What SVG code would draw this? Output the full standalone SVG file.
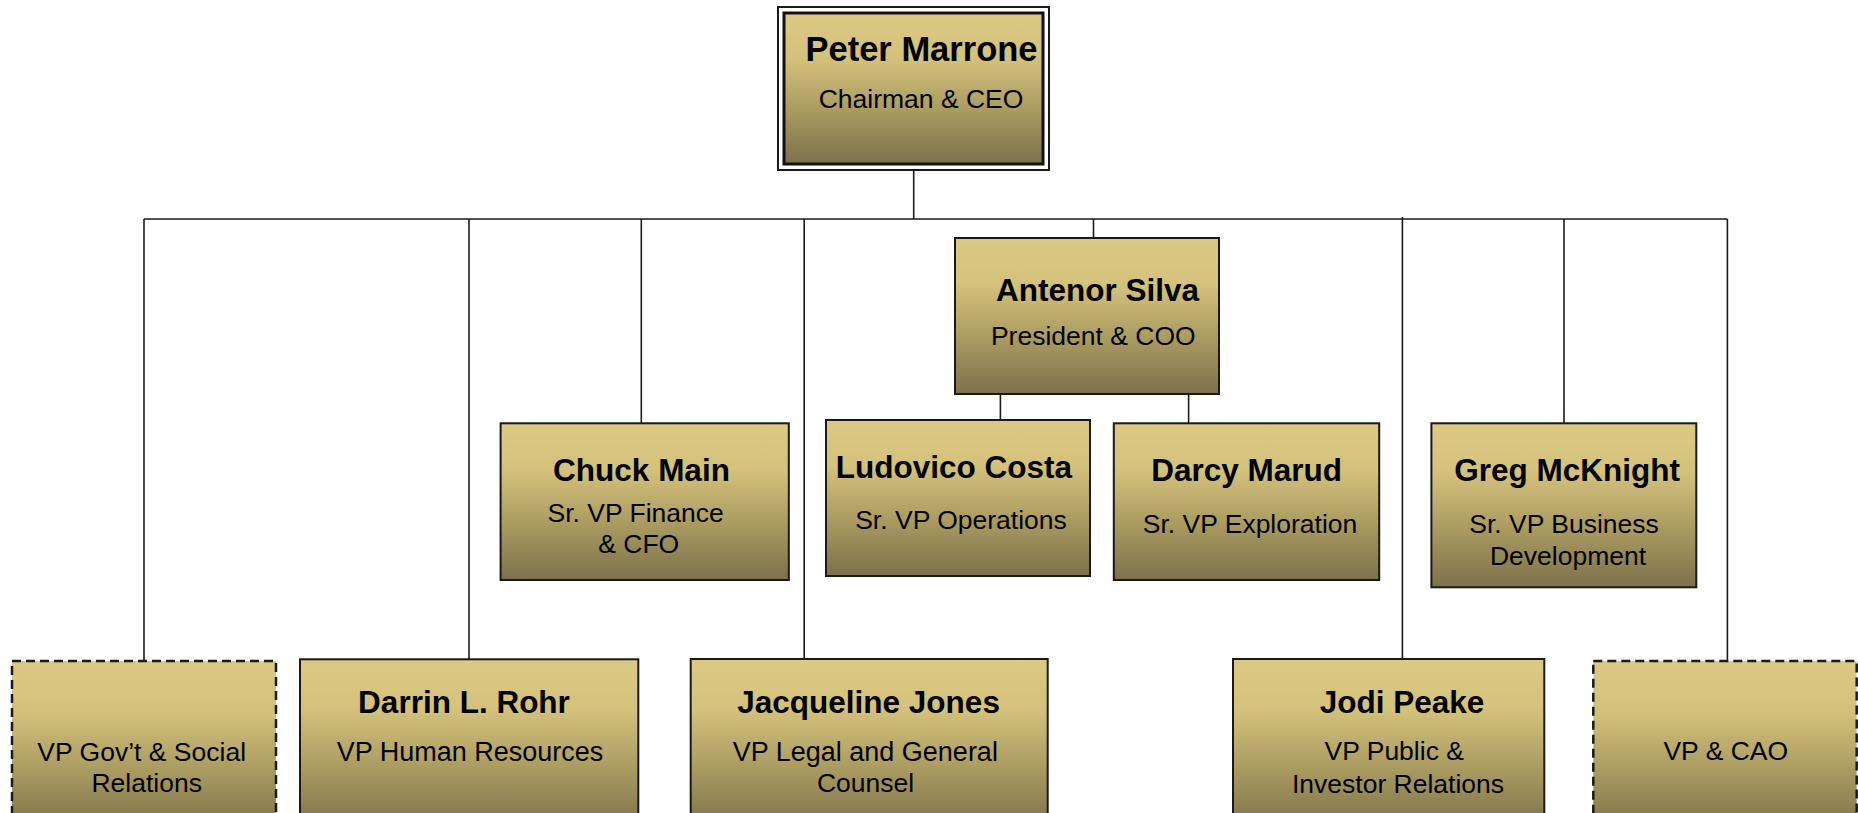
<svg xmlns="http://www.w3.org/2000/svg" width="1858" height="813" viewBox="0 0 1858 813">
<defs>
<linearGradient id="gold" x1="0" y1="0" x2="0" y2="1">
<stop offset="0" stop-color="#DCCA84"/>
<stop offset="0.3" stop-color="#D3C17C"/>
<stop offset="0.65" stop-color="#A99A60"/>
<stop offset="1" stop-color="#7C714B"/>
</linearGradient>
</defs>
<style>
.box{fill:url(#gold);stroke:#1a1a1a;stroke-width:2}
.dash{fill:url(#gold);stroke:#1a1a1a;stroke-width:2.5;stroke-dasharray:9 5}
.name{font-family:"Liberation Sans",Arial,sans-serif;font-weight:bold;font-size:31.5px;fill:#000;text-anchor:middle}
.title{font-family:"Liberation Sans",Arial,sans-serif;font-size:26.5px;fill:#000;text-anchor:middle}
.conn{stroke:#1a1a1a;stroke-width:1.6;fill:none}
</style>
<rect width="1858" height="813" fill="#fff"/>
<g id="connectors">
<line class="conn" x1="144" y1="219" x2="1727.4" y2="219"/>
<line class="conn" x1="913.7" y1="170" x2="913.7" y2="219"/>
<line class="conn" x1="144" y1="219" x2="144" y2="661"/>
<line class="conn" x1="469" y1="219" x2="469" y2="659"/>
<line class="conn" x1="641.3" y1="219" x2="641.3" y2="424"/>
<line class="conn" x1="804.2" y1="219" x2="804.2" y2="659"/>
<line class="conn" x1="1093.5" y1="219" x2="1093.5" y2="239"/>
<line class="conn" x1="1000.4" y1="394" x2="1000.4" y2="420"/>
<line class="conn" x1="1188.6" y1="394" x2="1188.6" y2="423"/>
<line class="conn" x1="1402.4" y1="217" x2="1402.4" y2="659"/>
<line class="conn" x1="1564" y1="219" x2="1564" y2="424"/>
<line class="conn" x1="1727.4" y1="219" x2="1727.4" y2="661"/>
</g>
<g id="peter-marrone">
<rect x="778" y="7" width="271" height="163" fill="#fff" stroke="#1a1a1a" stroke-width="2"/>
<rect x="784" y="13" width="259" height="151" fill="url(#gold)" stroke="#111" stroke-width="3"/>
<text class="name" x="921.5" y="61" style="font-size:34.5px">Peter Marrone</text>
<text class="title" x="921" y="108">Chairman &amp; CEO</text>
</g>
<g id="antenor-silva">
<rect class="box" x="955" y="238" width="264" height="156"/>
<text class="name" x="1097.5" y="300.7">Antenor Silva</text>
<text class="title" x="1093.3" y="345">President &amp; COO</text>
</g>
<g id="chuck-main">
<rect class="box" x="500.6" y="423.3" width="288.2" height="156.7"/>
<text class="name" x="641.5" y="481">Chuck Main</text>
<text class="title" x="635.6" y="521.7">Sr. VP Finance</text>
<text class="title" x="638.7" y="553.3">&amp; CFO</text>
</g>
<g id="ludovico-costa">
<rect class="box" x="826" y="420" width="264" height="156"/>
<text class="name" x="954" y="478.3">Ludovico Costa</text>
<text class="title" x="961" y="529.3">Sr. VP Operations</text>
</g>
<g id="darcy-marud">
<rect class="box" x="1113.8" y="423.3" width="265.4" height="156.7"/>
<text class="name" x="1246.7" y="481">Darcy Marud</text>
<text class="title" x="1250" y="532.7">Sr. VP Exploration</text>
</g>
<g id="greg-mcknight">
<rect class="box" x="1431.4" y="423.3" width="264.9" height="164"/>
<text class="name" x="1567" y="481">Greg McKnight</text>
<text class="title" x="1564" y="533.3">Sr. VP Business</text>
<text class="title" x="1568" y="565">Development</text>
</g>
<g id="vp-govt-social">
<rect class="dash" x="12" y="661" width="264" height="170"/>
<text class="title" x="141.7" y="761">VP Gov’t &amp; Social</text>
<text class="title" x="146.7" y="791.7">Relations</text>
</g>
<g id="darrin-rohr">
<rect class="box" x="300" y="659.3" width="338.3" height="170"/>
<text class="name" x="464" y="713.4">Darrin L. Rohr</text>
<text class="title" x="470" y="761" style="font-size:27px">VP Human Resources</text>
</g>
<g id="jacqueline-jones">
<rect class="box" x="690.7" y="659" width="357" height="170"/>
<text class="name" x="868.6" y="713.4">Jacqueline Jones</text>
<text class="title" x="865.3" y="761" style="font-size:27px">VP Legal and General</text>
<text class="title" x="865.5" y="791.7">Counsel</text>
</g>
<g id="jodi-peake">
<rect class="box" x="1233" y="659" width="311.3" height="170"/>
<text class="name" x="1402" y="713.4">Jodi Peake</text>
<text class="title" x="1394.2" y="760">VP Public &amp;</text>
<text class="title" x="1398" y="793.3">Investor Relations</text>
</g>
<g id="vp-cao">
<rect class="dash" x="1593.3" y="661" width="263.4" height="170"/>
<text class="title" x="1725.8" y="760">VP &amp; CAO</text>
</g>
</svg>
